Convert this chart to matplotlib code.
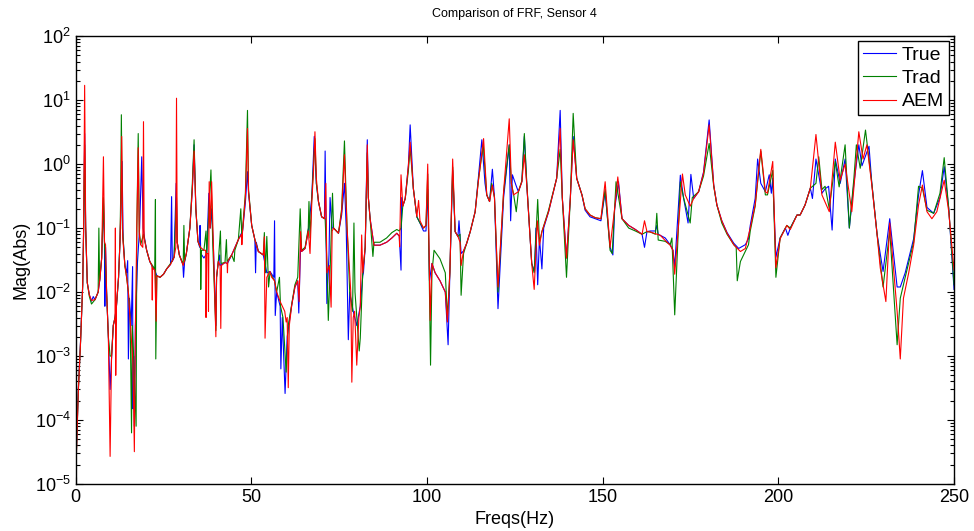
import matplotlib
matplotlib.use("Agg")
import matplotlib.pyplot as plt
from matplotlib.ticker import LogLocator, NullFormatter

plt.rcParams['font.family'] = ['Liberation Sans', 'DejaVu Sans']
plt.rcParams['mathtext.fontset'] = 'custom'
plt.rcParams['mathtext.rm'] = 'Liberation Sans'
plt.rcParams['mathtext.it'] = 'Liberation Sans'

title = "Comparison of FRF, Sensor 4"
xlabel = "Freqs(Hz)"
ylabel = "Mag(Abs)"
series_names = ["True", "Trad", "AEM"]

true_pts = [
(0.0,1.5e-5),(0.75,3e-4),(1.4,1.8e-3),(2.0,0.013),(2.27,0.1),(2.55,3.0),(2.84,0.1),(3.3,0.014),
(3.9,0.009),(4.5,0.0072),(5.0,0.0085),(5.5,0.0076),(6.4,0.01),(6.9,0.016),(7.4,0.034),(7.9,0.25),
(8.2,0.06),(8.3,0.006),(8.5,0.05),(8.8,0.01),(9.3,0.002),(9.8,3e-4),(10.2,9e-4),(10.7,0.003),
(11.2,0.004),(11.6,0.006),(12.2,0.017),(12.6,0.06),(12.9,0.2),(13.2,1.1),(13.5,0.07),(14.0,0.026),
(14.5,0.02),(14.8,0.031),(15.0,9e-4),(15.3,0.008),(15.8,0.003),(16.2,0.025),(16.3,1.5e-4),(16.5,0.001),
(16.7,8e-5),(17.0,0.003),(17.6,0.03),(18.2,0.1),(18.8,1.3),(19.2,0.1),(19.6,0.07),(20.2,0.045),
(21.1,0.03),(21.8,0.025),(22.5,0.022),(23.1,0.018),(24.0,0.017),(25.0,0.019),(25.9,0.023),(27.0,0.027),
(27.3,0.31),(27.5,0.03),(28.0,0.035),(28.6,0.5),(28.9,0.06),(29.5,0.038),(30.5,0.027),(30.7,0.017),
(31.0,0.03),(31.5,0.04),(32.5,0.1),(33.2,0.4),(33.7,2.0),(34.2,0.2),(34.8,0.062),(35.3,0.05),
(35.4,0.11),(35.6,0.04),(36.5,0.034),(37.3,0.04),(37.9,0.35),(38.3,0.1),(38.7,0.2),(39.2,0.05),
(39.9,0.003),(40.1,0.017),(40.6,0.03),(41.0,0.038),(41.1,0.026),(42.5,0.029),(43.2,0.028),(44.4,0.038),
(46.3,0.066),(47.5,0.09),(48.3,0.25),(48.9,0.76),(49.2,0.35),(50.1,0.11),(51.0,0.066),(51.2,0.02),
(51.4,0.06),(52.0,0.043),(53.4,0.038),(54.4,0.02),(55.3,0.021),(56.4,0.017),(56.6,0.13),(56.8,0.0043),
(57.2,0.01),(58.2,0.006),(58.4,6.3e-4),(58.8,0.004),(59.6,2.6e-4),(60.2,0.002),(61.5,0.0063),(62.4,0.012),
(63.2,0.015),(63.5,0.0047),(64.0,0.05),(64.3,0.043),(65.3,0.048),(66.2,0.09),(67.2,0.3),(67.9,2.7),
(68.5,0.5),(69.1,0.26),(70.0,0.15),(70.8,0.14),(71.0,1.6),(71.3,0.05),(71.5,0.0066),(72.1,0.038),
(72.4,0.3),(73.0,0.1),(73.4,0.1),(74.8,0.083),(75.7,0.16),(76.5,0.5),(77.0,0.1),(77.6,0.0018),
(78.0,0.01),(79.0,0.005),(80.0,0.003),(81.0,0.006),(81.7,0.018),(81.9,0.02),(82.4,0.05),(83.0,2.4),
(83.3,0.3),(83.8,0.14),(84.9,0.054),(86.6,0.054),(88.5,0.06),(90.0,0.07),(91.4,0.083),(92.1,0.075),
(92.6,0.022),(92.8,0.3),(93.1,0.22),(93.8,0.29),(94.7,0.95),(95.2,4.1),(96.1,0.42),(97.1,0.15),
(98.0,0.12),(99.0,0.09),(99.7,0.09),(100.2,0.4),(100.7,0.015),(101.4,0.028),(102.3,0.02),(103.7,0.015),
(105.2,0.01),(106.0,0.0015),(106.5,0.02),(107.3,0.8),(108.0,0.088),(108.8,0.074),(109.1,0.13),(109.7,0.04),
(110.4,0.044),(111.3,0.058),(112.3,0.088),(113.7,0.18),(114.6,0.6),(115.6,2.4),(116.5,0.5),(117.0,0.33),
(117.8,0.26),(118.6,0.83),(119.2,0.3),(120.2,0.0055),(121.8,0.3),(123.4,2.0),(123.8,0.13),(124.3,0.68),
(125.3,0.47),(126.0,0.37),(127.0,0.53),(127.7,2.7),(128.4,0.47),(129.8,0.028),(130.6,0.021),(131.0,0.1),
(131.5,0.013),(132.0,0.07),(132.7,0.023),(133.2,0.1),(134.6,0.18),(135.5,0.29),(136.9,0.6),(137.9,6.9),
(138.5,0.3),(139.7,0.034),(140.8,0.3),(141.6,2.7),(142.6,0.6),(144.1,0.33),(145.0,0.19),(146.4,0.15),
(147.9,0.14),(149.5,0.13),(150.7,0.37),(152.1,0.05),(152.9,0.038),(153.4,0.2),(154.5,0.53),(155.5,0.14),
(157.4,0.11),(159.3,0.095),(161.2,0.08),(161.9,0.05),(162.6,0.088),(163.5,0.09),(165.0,0.09),(165.4,0.11),
(165.8,0.08),(167.8,0.07),(169.2,0.055),(170.0,0.045),(170.5,0.025),(172.1,0.67),(173.0,0.3),(174.3,0.12),
(175.1,0.69),(175.9,0.29),(177.3,0.37),(178.7,0.75),(180.3,4.9),(181.6,0.47),(182.5,0.23),(183.9,0.13),
(185.4,0.085),(187.3,0.058),(188.7,0.048),(190.6,0.055),(191.5,0.068),(192.0,0.11),(193.4,0.29),(194.1,1.2),
(195.0,0.5),(196.3,0.37),(197.4,0.68),(198.0,0.35),(198.4,0.6),(199.3,0.035),(200.5,0.07),(202.0,0.1),
(202.7,0.077),(203.4,0.1),(205.3,0.16),(206.2,0.16),(207.6,0.23),(209.1,0.42),(209.7,0.29),(210.7,1.2),
(212.4,0.35),(213.3,0.41),(214.3,0.45),(215.3,0.093),(216.2,1.2),(217.6,0.5),(219.0,1.2),(220.2,0.1),
(221.5,0.5),(222.9,2.0),(223.8,0.94),(225.8,1.9),(226.6,0.5),(228.1,0.08),(229.8,0.021),(231.7,0.14),
(233.8,0.012),(234.7,0.012),(236.1,0.02),(238.5,0.068),(239.9,0.33),(241.0,0.79),(242.3,0.21),(244.2,0.17),
(246.0,0.3),(247.2,0.91),(248.5,0.2),(250.0,0.011)]

trad_pts = [
(0.0,1.3e-5),(0.75,2.9e-4),(1.4,1.7e-3),(2.0,0.013),(2.27,0.1),(2.55,2.0),(2.84,0.1),(3.3,0.014),
(3.9,0.0085),(4.5,0.0065),(5.5,0.0076),(6.4,0.01),(6.6,0.1),(6.8,0.015),(7.4,0.034),(7.9,0.3),
(8.2,0.06),(8.8,0.01),(9.3,0.002),(9.8,0.001),(10.2,0.001),(10.7,0.003),(11.2,0.004),(11.6,0.006),
(12.2,0.017),(12.6,0.06),(12.8,0.3),(13.0,5.9),(13.3,0.1),(14.0,0.026),(14.5,0.017),(15.0,0.01),
(15.5,0.004),(15.9,6.3e-5),(16.1,0.003),(16.5,0.001),(17.2,8e-5),(17.4,0.1),(17.8,3.0),(18.1,0.09),
(18.5,0.055),(19.3,0.08),(19.5,0.07),(20.2,0.045),(21.1,0.03),(22.5,0.023),(22.7,0.28),(22.8,9e-4),
(23.1,0.018),(24.0,0.017),(25.0,0.019),(25.9,0.023),(27.0,0.028),(28.0,0.035),(28.7,0.3),(28.9,0.06),
(29.5,0.038),(30.6,0.027),(30.8,0.11),(31.0,0.03),(31.5,0.04),(32.5,0.1),(33.2,0.5),(33.7,2.4),
(34.2,0.2),(34.8,0.062),(35.5,0.05),(35.6,0.011),(35.8,0.045),(36.5,0.045),(37.1,0.09),(37.3,0.04),
(38.5,0.81),(39.0,0.06),(39.9,0.0025),(40.1,0.017),(40.6,0.03),(41.2,0.09),(41.4,0.028),(42.5,0.029),
(42.9,0.066),(43.1,0.03),(44.4,0.038),(45.1,0.03),(45.3,0.045),(46.3,0.066),(47.0,0.2),(47.3,0.07),
(48.3,0.35),(48.9,6.9),(49.2,0.4),(50.1,0.11),(51.0,0.066),(52.0,0.043),(53.4,0.038),(53.7,0.085),
(54.0,0.02),(54.4,0.074),(54.9,0.012),(55.3,0.02),(56.6,0.015),(57.2,0.01),(58.0,0.017),(58.3,0.006),
(59.0,0.004),(59.9,5.6e-4),(60.5,0.003),(61.5,0.0065),(62.4,0.013),(63.2,0.017),(63.9,0.2),(64.3,0.045),
(65.3,0.05),(66.2,0.1),(66.4,0.26),(66.7,0.07),(67.2,0.3),(68.1,2.5),(68.5,0.5),(69.1,0.26),
(70.0,0.15),(71.0,0.14),(71.5,0.03),(71.9,0.0036),(72.5,0.03),(73.1,0.35),(73.4,0.1),(74.8,0.083),
(75.7,0.2),(76.5,2.3),(77.2,0.12),(78.0,0.01),(78.8,0.005),(79.2,0.12),(79.5,0.01),(80.7,0.0012),
(81.0,0.0019),(81.7,0.02),(82.4,0.05),(83.0,1.5),(83.3,0.3),(83.8,0.14),(84.6,0.036),(84.9,0.06),
(86.6,0.06),(88.5,0.07),(90.0,0.085),(91.4,0.095),(92.1,0.09),(92.6,0.1),(93.1,0.22),(93.8,0.29),
(94.7,0.8),(95.2,1.8),(96.1,0.42),(97.1,0.15),(98.0,0.12),(99.0,0.1),(99.7,0.11),(100.2,0.7),
(101.0,7.2e-4),(101.4,0.02),(102.0,0.045),(103.7,0.033),(105.2,0.02),(105.8,0.004),(106.5,0.02),(107.3,0.9),
(108.0,0.088),(108.8,0.074),(109.4,0.08),(109.7,0.0089),(110.4,0.04),(111.3,0.058),(112.3,0.088),(113.7,0.18),
(114.6,0.55),(116.0,2.0),(117.0,0.33),(117.8,0.26),(118.4,0.5),(119.2,0.3),(120.2,0.01),(121.8,0.37),
(123.4,2.0),(124.0,0.5),(124.6,0.35),(125.4,0.18),(126.0,0.37),(127.0,0.55),(127.7,3.0),(128.4,0.5),
(129.8,0.028),(130.5,0.02),(131.5,0.28),(132.0,0.06),(132.7,0.088),(134.6,0.19),(135.5,0.3),(136.9,0.6),
(137.9,1.7),(138.5,0.3),(139.7,0.017),(140.8,0.3),(141.6,6.2),(142.6,0.6),(144.1,0.33),(145.0,0.2),
(146.4,0.16),(147.9,0.145),(149.5,0.14),(150.7,0.4),(152.1,0.045),(152.7,0.04),(153.8,0.53),(155.5,0.14),
(157.4,0.1),(159.3,0.09),(161.2,0.08),(162.6,0.088),(163.5,0.087),(165.0,0.08),(165.4,0.17),(165.8,0.065),
(167.8,0.062),(169.2,0.055),(169.7,0.07),(170.5,0.0044),(172.1,0.53),(173.0,0.3),(174.9,0.12),(175.5,0.3),
(177.3,0.37),(178.7,0.65),(180.3,2.1),(181.6,0.45),(182.5,0.23),(183.9,0.12),(185.4,0.08),(187.3,0.055),
(188.0,0.05),(188.3,0.015),(189.2,0.03),(191.5,0.055),(192.0,0.09),(193.4,0.22),(195.0,1.6),(196.3,0.33),
(196.9,0.33),(198.4,0.8),(199.3,0.017),(200.5,0.07),(202.4,0.11),(203.4,0.1),(205.3,0.16),(206.2,0.16),
(207.6,0.23),(209.1,0.42),(210.7,0.5),(211.5,1.3),(212.4,0.4),(213.3,0.45),(214.5,0.2),(216.2,1.1),
(217.3,0.44),(219.0,2.0),(220.2,0.1),(221.5,0.6),(222.2,2.0),(223.3,0.86),(224.8,3.4),(226.6,0.5),
(228.1,0.08),(229.8,0.012),(231.7,0.09),(233.8,0.0015),(234.7,0.008),(236.1,0.017),(238.5,0.06),(239.9,0.45),
(241.0,0.42),(242.3,0.19),(244.2,0.17),(246.0,0.35),(247.2,1.26),(248.5,0.2),(250.0,0.013)]

aem_pts = [
(0.0,1.2e-5),(0.75,2.8e-4),(1.4,1.7e-3),(2.0,0.013),(2.27,0.11),(2.55,17),(2.84,0.11),(3.3,0.014),
(3.9,0.009),(4.5,0.0074),(5.5,0.0076),(6.4,0.01),(6.9,0.016),(7.4,0.034),(7.9,1.3),(8.2,0.06),
(8.5,0.055),(8.8,0.01),(9.3,0.002),(9.8,2.7e-5),(10.2,9e-4),(10.7,0.003),(11.2,0.004),(11.3,0.1),
(11.4,5e-4),(11.6,0.006),(12.2,0.017),(12.6,0.06),(12.9,0.3),(13.1,2.7),(13.4,0.07),(14.0,0.026),
(14.5,0.017),(15.0,0.01),(15.8,0.002),(16.3,8e-4),(16.7,3.2e-5),(17.0,0.003),(17.4,0.1),(17.8,1.8),
(18.1,0.08),(18.5,0.055),(19.1,0.05),(19.3,4.6),(19.5,0.07),(20.2,0.045),(21.1,0.03),(21.7,0.026),
(21.8,0.0075),(21.9,0.024),(22.5,0.022),(22.9,0.0035),(23.1,0.018),(24.0,0.017),(25.0,0.019),(25.9,0.023),
(27.0,0.027),(28.0,0.035),(28.5,0.05),(28.7,10.7),(28.9,0.06),(29.5,0.038),(30.6,0.026),(31.5,0.04),
(32.5,0.1),(33.2,0.4),(33.7,1.6),(34.2,0.2),(34.8,0.062),(35.5,0.05),(36.5,0.045),(37.0,0.045),
(37.1,0.004),(37.3,0.04),(37.7,0.04),(37.8,0.005),(38.0,0.53),(38.3,0.1),(38.7,0.53),(39.2,0.05),
(39.9,0.002),(40.1,0.017),(40.6,0.03),(41.1,0.026),(41.3,0.0027),(41.5,0.026),(42.5,0.029),(43.1,0.028),
(43.2,0.02),(43.3,0.03),(44.4,0.038),(46.3,0.066),(47.2,0.08),(47.3,0.055),(47.5,0.09),(48.3,0.3),
(48.9,3.6),(49.2,0.37),(50.1,0.11),(51.0,0.066),(52.0,0.043),(53.4,0.038),(53.7,0.073),(53.9,0.0019),
(54.4,0.017),(55.3,0.021),(55.8,0.017),(56.6,0.015),(57.2,0.01),(58.2,0.0071),(59.5,0.005),(59.9,0.0034),
(60.2,0.004),(60.5,3.2e-4),(60.8,0.003),(61.5,0.0063),(62.4,0.012),(63.2,0.015),(63.6,0.0071),(64.0,0.088),
(64.3,0.043),(65.3,0.048),(66.2,0.09),(66.7,0.04),(67.2,0.25),(67.7,0.8),(68.1,3.2),(68.5,0.6),
(69.1,0.26),(70.0,0.15),(70.8,0.14),(71.2,0.5),(71.5,0.02),(72.2,0.026),(72.7,0.0058),(73.0,0.09),
(73.4,0.1),(74.8,0.083),(75.7,0.18),(76.5,1.4),(77.2,0.11),(77.8,0.03),(78.3,0.01),(78.6,3.9e-4),
(79.0,0.004),(79.4,0.005),(80.0,7.2e-4),(80.6,0.004),(81.0,0.006),(81.4,0.078),(81.7,0.02),(82.4,0.05),
(83.0,2.0),(83.3,0.3),(83.8,0.14),(84.9,0.054),(86.6,0.054),(88.5,0.06),(90.0,0.07),(91.4,0.083),
(92.1,0.075),(92.2,0.051),(92.6,0.68),(93.1,0.22),(93.8,0.29),(94.7,0.95),(95.2,2.2),(96.1,0.42),
(97.1,0.15),(97.6,0.27),(98.0,0.13),(99.0,0.1),(99.7,0.11),(100.2,1.0),(100.9,0.0036),(101.4,0.028),
(102.3,0.02),(103.7,0.015),(105.2,0.01),(105.8,0.0034),(106.5,0.02),(107.3,1.2),(108.0,0.088),(108.8,0.074),
(109.4,0.06),(109.7,0.026),(110.4,0.044),(111.3,0.058),(112.3,0.088),(113.7,0.18),(114.6,0.53),(116.1,2.5),
(117.0,0.33),(117.8,0.26),(118.6,0.47),(119.2,0.3),(120.2,0.012),(121.8,0.37),(123.4,5.1),(124.0,0.5),
(124.6,0.33),(126.0,0.37),(127.0,0.53),(127.7,1.4),(128.4,0.47),(129.8,0.028),(130.5,0.011),(131.4,0.13),
(132.0,0.054),(132.7,0.088),(134.6,0.18),(135.5,0.29),(136.9,0.6),(137.9,3.6),(138.5,0.3),(139.7,0.034),
(140.8,0.3),(141.6,2.4),(142.6,0.6),(144.1,0.33),(145.0,0.2),(146.4,0.16),(147.9,0.145),(149.5,0.14),
(150.7,0.53),(152.1,0.05),(153.4,0.2),(154.3,0.63),(155.5,0.14),(157.4,0.11),(159.3,0.095),(161.2,0.08),
(161.9,0.13),(162.6,0.088),(163.5,0.087),(166.4,0.077),(167.8,0.064),(169.2,0.054),(170.0,0.045),(170.5,0.019),
(172.7,0.7),(173.5,0.33),(174.9,0.22),(175.9,0.29),(177.3,0.37),(178.7,0.72),(180.3,4.1),(181.6,0.47),
(182.5,0.23),(183.9,0.13),(185.4,0.083),(187.3,0.055),(189.2,0.043),(190.6,0.048),(192.0,0.1),(193.4,0.23),
(195.0,1.7),(196.3,0.37),(196.9,0.35),(198.4,1.1),(199.3,0.024),(200.5,0.068),(202.4,0.11),(203.4,0.095),
(205.3,0.16),(206.2,0.16),(207.6,0.23),(209.1,0.42),(210.7,2.9),(212.4,0.33),(214.5,0.18),(216.2,2.2),
(217.6,0.56),(219.0,1.0),(220.9,0.18),(222.9,3.2),(224.1,1.2),(225.2,2.0),(226.6,0.47),(228.1,0.079),
(229.0,0.024),(230.6,0.0071),(231.7,0.12),(233.8,0.005),(234.7,9e-4),(235.6,0.008),(237.1,0.02),(238.5,0.054),
(239.9,0.23),(241.0,0.47),(242.3,0.18),(243.7,0.14),(245.1,0.18),(247.2,0.56),(248.5,0.18),(250.0,0.022)]

xticks = [0, 50, 100, 150, 200, 250]
yticks = [1e-5, 1e-4, 1e-3, 1e-2, 1e-1, 1e0, 1e1, 1e2]
colors = ["#0000ff", "#008000", "#ff0000"]

fig = plt.figure(figsize=(9.74, 5.31), dpi=100)
ax = fig.add_axes([0.0777, 0.0885, 0.9018, 0.8435])

for pts, name, c in zip([true_pts, trad_pts, aem_pts], series_names, colors):
    f = [p[0] for p in pts]
    m = [p[1] for p in pts]
    ax.plot(f, m, color=c, lw=0.8, label=name)

ax.set_yscale('log')
ax.set_xlim(0, 250)
ax.set_ylim(1e-5, 1e2)
ax.set_xticks(xticks)
ax.set_yticks(yticks)
ax.yaxis.set_minor_locator(LogLocator(base=10, subs=range(2, 10), numticks=100))
ax.yaxis.set_minor_formatter(NullFormatter())
ax.tick_params(which='both', direction='in', top=True, right=True, labelsize=13, width=0.8)
ax.tick_params(which='major', length=5)
ax.tick_params(which='minor', length=3)
for s in ax.spines.values():
    s.set_linewidth(1.0)
ax.set_title(title, fontsize=9, pad=14)
ax.set_xlabel(xlabel, fontsize=13, labelpad=4)
ax.set_ylabel(ylabel, fontsize=13, labelpad=4)
leg = ax.legend(loc='upper right', bbox_to_anchor=(0.9945, 0.989), fontsize=14, fancybox=False,
                edgecolor='black', framealpha=1, handlelength=1.7, handletextpad=0.3,
                borderpad=0.25, labelspacing=0.3, borderaxespad=0)
leg.get_frame().set_linewidth(1.0)

fig.savefig("out.png", dpi=100)
